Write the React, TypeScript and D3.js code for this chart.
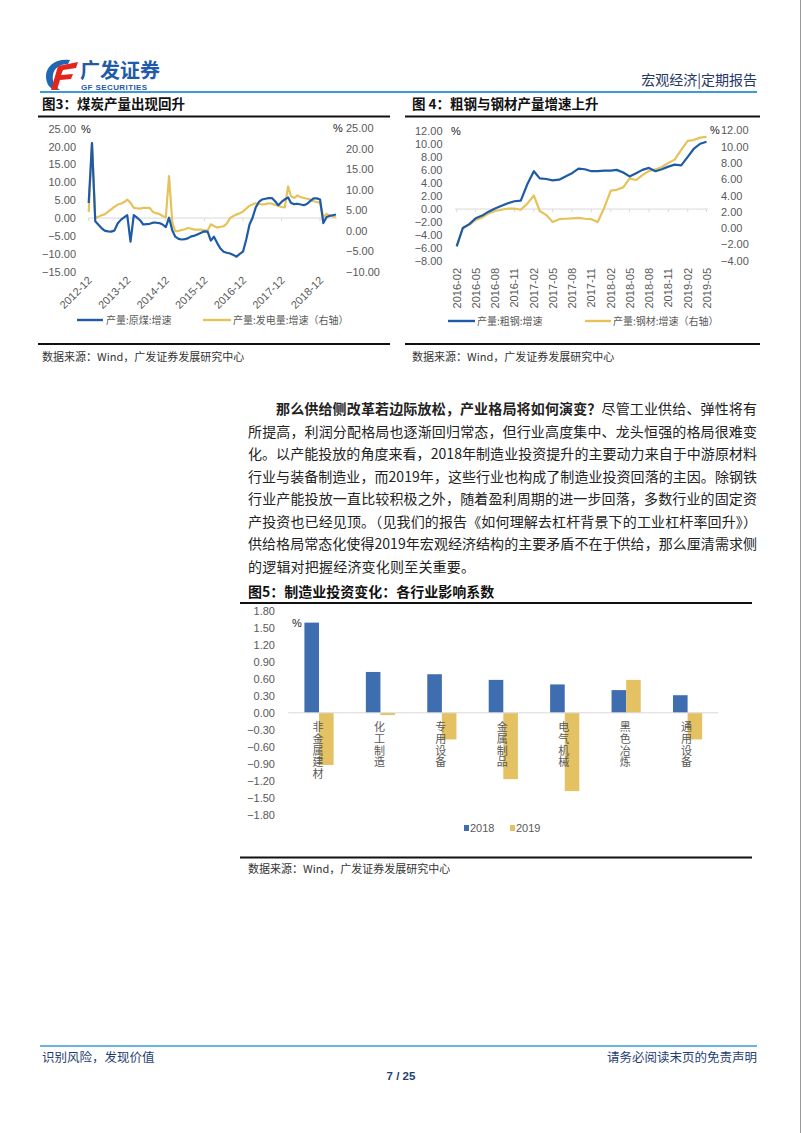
import React from 'react';
import * as d3 from 'd3';

// ---------- Data ----------
const coalMonths = d3.timeMonth.range(new Date(2012, 11, 1), new Date(2019, 5, 1));
const coalTickLabels = ['2012-12', '2013-12', '2014-12', '2015-12', '2016-12', '2017-12', '2018-12'];
const coalOutput = [
  4.2, 21.0, -0.9, -1.8, -2.8, -3.5, -3.7, -3.8, -3.5, -1.5, -0.5, 0.2,
  0.8, -6.6, 0.8, 0.2, -0.6, -1.8, -1.7, -1.6, -1.3, -1.3, -1.4, -1.8,
  -2.5, 0.1, -3.5, -5.2, -5.8, -6.0, -5.9, -5.6, -5.1, -4.9, -4.5, -4.1,
  -3.7, -3.8, -6.3, -5.2, -7.0, -8.5, -9.4, -9.7, -9.9, -10.3, -10.8, -10.0,
  -9.4, -6.0, -1.8, 0.0, 3.0, 4.5, 5.2, 5.4, 5.6, 5.6, 4.7, 3.6,
  4.5, 5.2, 5.8, 4.2, 3.9, 4.0, 3.8, 3.6, 4.0, 4.8, 5.5, 5.5,
  5.2, -1.4, 0.3, 0.6, 0.8, 1.0,
];
const powerOutput = [
  4.6, 21.4, 3.1, 3.4, 3.8, 4.0, 4.6, 5.2, 5.8, 6.4, 6.6, 7.0,
  7.6, 6.8, 5.6, 5.5, 5.4, 5.6, 5.6, 5.6, 4.6, 4.3, 4.1, 3.6,
  3.3, 13.3, 2.0, -0.1, 0.0, 0.2, 0.4, 0.7, 0.5, 0.3, 0.3, 0.3,
  0.1, 0.05, 1.6, 1.2, 0.8, 1.0, 1.1, 1.8, 3.1, 3.6, 4.0, 4.3,
  4.7, 5.4, 6.1, 6.4, 6.7, 6.6, 6.4, 6.5, 6.7, 6.6, 6.3, 6.1,
  5.8, 5.7, 10.8, 8.4, 8.0, 8.6, 8.2, 8.0, 7.8, 7.6, 7.2, 7.0,
  6.8, 3.3, 4.1, 3.8, 3.5, 3.3,
];
const coalLeftTicks = [25, 20, 15, 10, 5, 0, -5, -10, -15];
const coalRightTicks = [25, 20, 15, 10, 5, 0, -5, -10];

const steelMonths = d3.timeMonth.range(new Date(2016, 1, 1), new Date(2019, 5, 1));
const crudeSteel = [
  -5.7, -2.9, -2.3, -1.4, -1.0, -0.4, 0.1, 0.5, 0.9, 1.2, 1.3, 3.8,
  5.8, 4.7, 4.6, 4.4, 4.5, 5.0, 5.5, 6.2, 6.1, 5.8, 5.8, 5.9,
  5.9, 6.0, 5.6, 5.0, 5.5, 6.0, 6.3, 5.8, 6.1, 6.5, 6.8, 6.7,
  8.0, 9.2, 10.0, 10.3,
];
const steelProducts = [
  -2.2, 0.0, 0.4, 1.0, 1.3, 1.8, 2.1, 2.25, 2.4, 2.4, 2.25, 3.0,
  4.0, 2.1, 1.6, 0.75, 1.1, 1.15, 1.2, 1.25, 1.15, 1.1, 0.75, 2.5,
  4.6, 4.7, 5.0, 6.1, 5.9, 6.5, 7.0, 7.2, 7.5, 8.0, 8.4, 9.6,
  10.7, 10.8, 11.1, 11.2,
];
const steelLeftTicks = [12, 10, 8, 6, 4, 2, 0, -2, -4, -6, -8];
const steelRightTicks = [12, 10, 8, 6, 4, 2, 0, -2, -4];

const industries = ['非金属建材', '化工制造', '专用设备', '金属制品', '电气机械', '黑色冶炼', '通用设备'];
const barSeries = ['2018', '2019'];
const coef2018 = [1.59, 0.72, 0.68, 0.58, 0.50, 0.40, 0.31];
const coef2019 = [-0.92, -0.04, -0.47, -1.17, -1.38, 0.58, -0.47];
const barTicks = [1.8, 1.5, 1.2, 0.9, 0.6, 0.3, 0, -0.3, -0.6, -0.9, -1.2, -1.5, -1.8];

const paragraph = [
  '所提高，利润分配格局也逐渐回归常态，但行业高度集中、龙头恒强的格局很难变',
  '化。以产能投放的角度来看，2018年制造业投资提升的主要动力来自于中游原材料',
  '行业与装备制造业，而2019年，这些行业也构成了制造业投资回落的主因。除钢铁',
  '行业产能投放一直比较积极之外，随着盈利周期的进一步回落，多数行业的固定资',
  '产投资也已经见顶。（见我们的报告《如何理解去杠杆背景下的工业杠杆率回升》）',
  '供给格局常态化使得2019年宏观经济结构的主要矛盾不在于供给，那么厘清需求侧',
  '的逻辑对把握经济变化则至关重要。',
];

// ---------- Styles ----------
const BLUE = '#1d5ba6';
const GOLD = '#e6c35a';
const BAR_BLUE = '#3f6eb0';
const BAR_GOLD = '#e4c264';
const AX = '#595959';
const CN = '"Noto Sans CJK SC", sans-serif';
const LAT = '"Liberation Sans", Arial, sans-serif';

const fmt2 = d3.format('.2f');

function CoalChart() {
  const x = d3.scaleTime().domain([coalMonths[0], coalMonths[coalMonths.length - 1]]).range([88.7, 336]);
  const yL = d3.scaleLinear().domain([-15, 25]).range([271.7, 128.7]);
  const yR = d3.scaleLinear().domain([-10, 25]).range([272, 128]);
  const lineL = d3.line<number>().x((_, i) => x(coalMonths[i])).y((d) => yL(d));
  const lineR = d3.line<number>().x((_, i) => x(coalMonths[i])).y((d) => yR(d));
  const tickDates = coalMonths.filter((d) => d.getMonth() === 11);
  return (
    <g>
      <line x1={88} x2={337} y1={yL(0)} y2={yL(0)} stroke="#d9d9d9" strokeWidth={1} />
      {tickDates.map((d, i) => (
        <line key={i} x1={x(d)} x2={x(d)} y1={yL(0)} y2={yL(0) + 3} stroke="#d9d9d9" />
      ))}
      {coalLeftTicks.map((t) => (
        <text key={t} x={76} y={yL(t) + 4} textAnchor="end" fontSize={11} fill={AX} fontFamily={LAT}>{fmt2(t)}</text>
      ))}
      {coalRightTicks.map((t) => (
        <text key={t} x={346} y={yR(t) + 4} textAnchor="start" fontSize={11} fill={AX} fontFamily={LAT}>{fmt2(t)}</text>
      ))}
      <text x={81} y={133} fontSize={11} fill="#222" fontFamily={LAT}>%</text>
      <text x={333} y={132} fontSize={11} fill="#222" fontFamily={LAT}>%</text>
      {tickDates.map((d, i) => (
        <text key={i} transform={`translate(${x(d) + 4},${281}) rotate(-45)`} textAnchor="end" fontSize={11} fill={AX} fontFamily={LAT}>{coalTickLabels[i]}</text>
      ))}
      <path d={lineR(powerOutput) || ''} fill="none" stroke={GOLD} strokeWidth={2.2} strokeLinejoin="round" />
      <path d={lineL(coalOutput) || ''} fill="none" stroke={BLUE} strokeWidth={2.2} strokeLinejoin="round" />
      <line x1={77} x2={103} y1={320} y2={320} stroke={BLUE} strokeWidth={2.4} />
      <text x={106} y={323.5} fontSize={10} fill={AX} fontFamily={CN}>产量:原煤:增速</text>
      <line x1={203} x2={231} y1={320} y2={320} stroke={GOLD} strokeWidth={2.4} />
      <text x={233} y={323.5} fontSize={10} fill={AX} fontFamily={CN}>产量:发电量:增速（右轴）</text>
    </g>
  );
}

function SteelChart() {
  const x = d3.scaleTime().domain([steelMonths[0], steelMonths[steelMonths.length - 1]]).range([456.7, 706.5]);
  const yL = d3.scaleLinear().domain([-8, 12]).range([261.3, 130.7]);
  const yR = d3.scaleLinear().domain([-4, 12]).range([260.7, 130.3]);
  const lineL = d3.line<number>().x((_, i) => x(steelMonths[i])).y((d) => yL(d));
  const lineR = d3.line<number>().x((_, i) => x(steelMonths[i])).y((d) => yR(d));
  const tickDates = steelMonths.filter((_, i) => i % 3 === 0);
  const tf = d3.timeFormat('%Y-%m');
  return (
    <g>
      <line x1={455} x2={708} y1={yL(0)} y2={yL(0)} stroke="#d9d9d9" strokeWidth={1} />
      {tickDates.map((d, i) => (
        <line key={i} x1={x(d)} x2={x(d)} y1={yL(0)} y2={yL(0) + 3} stroke="#d9d9d9" />
      ))}
      {steelLeftTicks.map((t) => (
        <text key={t} x={442.5} y={yL(t) + 4} textAnchor="end" fontSize={11} fill={AX} fontFamily={LAT}>{fmt2(t)}</text>
      ))}
      {steelRightTicks.map((t) => (
        <text key={t} x={721} y={yR(t) + 4} textAnchor="start" fontSize={11} fill={AX} fontFamily={LAT}>{fmt2(t)}</text>
      ))}
      <text x={451} y={135} fontSize={11} fill="#222" fontFamily={LAT}>%</text>
      <text x={710} y={134} fontSize={11} fill="#222" fontFamily={LAT}>%</text>
      {tickDates.map((d, i) => (
        <text key={i} transform={`translate(${x(d) + 4},${268}) rotate(-90)`} textAnchor="end" fontSize={11} fill={AX} fontFamily={LAT}>{tf(d)}</text>
      ))}
      <path d={lineR(steelProducts) || ''} fill="none" stroke={GOLD} strokeWidth={2.2} strokeLinejoin="round" />
      <path d={lineL(crudeSteel) || ''} fill="none" stroke={BLUE} strokeWidth={2.2} strokeLinejoin="round" />
      <line x1={448} x2={475} y1={321} y2={321} stroke={BLUE} strokeWidth={2.4} />
      <text x={477} y={324.5} fontSize={10} fill={AX} fontFamily={CN}>产量:粗钢:增速</text>
      <line x1={585} x2={611} y1={321} y2={321} stroke={GOLD} strokeWidth={2.4} />
      <text x={613} y={324.5} fontSize={10} fill={AX} fontFamily={CN}>产量:钢材:增速（右轴）</text>
    </g>
  );
}

function BarChart() {
  const x0 = d3.scaleBand<string>().domain(industries).range([288.3, 718.3]);
  const bw = x0.bandwidth();
  const x1 = d3.scaleBand<string>().domain(barSeries).range([bw / 2 - 14.6, bw / 2 + 14.6]);
  const y = d3.scaleLinear().domain([-1.8, 1.8]).range([814.9, 610.7]);
  const vals = [coef2018, coef2019];
  const cols = [BAR_BLUE, BAR_GOLD];
  return (
    <g>
      {barTicks.map((t) => (
        <text key={t} x={275} y={y(t) + 4} textAnchor="end" fontSize={11} fill={AX} fontFamily={LAT}>{fmt2(t)}</text>
      ))}
      <text x={292} y={627} fontSize={11} fill="#222" fontFamily={LAT}>%</text>
      {industries.map((c, i) => (
        <g key={c} transform={`translate(${x0(c)},0)`}>
          {barSeries.map((s, k) => {
            const v = vals[k][i];
            return (
              <rect key={s} x={x1(s)} width={x1.bandwidth()} y={y(Math.max(0, v))} height={Math.abs(y(v) - y(0))} fill={cols[k]} />
            );
          })}
        </g>
      ))}
      <line x1={288.3} x2={718.3} y1={y(0)} y2={y(0)} stroke="#d9d9d9" strokeWidth={1} />
      {industries.map((c) => {
        const cx = (x0(c) || 0) + bw / 2 - 1;
        return (
          <text key={c} x={cx} y={721.5} fontSize={11} fill={AX} fontFamily={CN}
            style={{ writingMode: 'vertical-rl', letterSpacing: '0.7px' }}>{c}</text>
        );
      })}
      <rect x={464} y={825} width={5} height={6} fill={BAR_BLUE} />
      <text x={470} y={832} fontSize={11} fill={AX} fontFamily={LAT}>{barSeries[0]}</text>
      <rect x={510} y={825} width={5} height={6} fill={BAR_GOLD} />
      <text x={516} y={832} fontSize={11} fill={AX} fontFamily={LAT}>{barSeries[1]}</text>
    </g>
  );
}

function Logo() {
  return (
    <g>
      <path d="M70,60 C56,58 46,66 46,76 C46,84 50,89 56,90 L60,90 C54,86 52,80 53,75 C54,68 60,64 68,64 Z" fill="#1f67b2" />
      <path d="M58,66 L78,62 L76,68 L63,70 L61,75 L73,74 L71,79 L60,80 L57,90 L51,90 Z" fill="#e2261c" />
      <text x={80} y={78} fontSize={20} fontWeight="bold" fill="#1f5ba8" fontFamily={CN}>广发证券</text>
      <text x={81} y={90} fontSize={8} fontWeight="bold" fill="#1f5ba8" fontFamily={LAT} letterSpacing={0.4}>GF SECURITIES</text>
    </g>
  );
}

export default function App() {
  return (
    <svg width={802} height={1133} style={{ display: 'block', position: 'absolute', left: 0, top: 0, background: '#fff' }}>
      <rect x={0} y={0} width={802} height={1133} fill="#fff" />
      <line x1={800.5} x2={800.5} y1={0} y2={1133} stroke="#9a9a9a" strokeWidth={1} />
      <Logo />
      <text x={757} y={85} textAnchor="end" fontSize={14} fill="#1f3864" fontFamily={CN}>宏观经济|定期报告</text>
      <line x1={40} x2={757} y1={92} y2={92} stroke="#3a9bd5" strokeWidth={2} />

      {/* figure titles */}
      <text x={42} y={109} fontSize={13.5} fontWeight="bold" fill="#111" fontFamily={CN}>图3：煤炭产量出现回升</text>
      <line x1={38} x2={390} y1={116.5} y2={116.5} stroke="#111" strokeWidth={1.8} />
      <text x={412} y={109} fontSize={13.5} fontWeight="bold" fill="#111" fontFamily={CN}>图 4：粗钢与钢材产量增速上升</text>
      <line x1={405} x2={760} y1={116.5} y2={116.5} stroke="#111" strokeWidth={1.8} />

      <CoalChart />
      <SteelChart />

      <line x1={38} x2={390} y1={344} y2={344} stroke="#111" strokeWidth={1.8} />
      <line x1={405} x2={760} y1={344} y2={344} stroke="#111" strokeWidth={1.8} />
      <text x={42} y={361} fontSize={11} fill="#333" fontFamily={CN}>数据来源：Wind，广发证券发展研究中心</text>
      <text x={412} y={361} fontSize={11} fill="#333" fontFamily={CN}>数据来源：Wind，广发证券发展研究中心</text>

      {/* paragraph */}
      <text x={276} y={414} fontSize={14} fill="#222" fontFamily={CN} textLength={481} lengthAdjust="spacing">
        <tspan fontWeight="bold">那么供给侧改革若边际放松，产业格局将如何演变？</tspan>
        <tspan>尽管工业供给、弹性将有</tspan>
      </text>
      {paragraph.map((ln, i) => (
        <text key={i} x={248} y={414 + (i + 1) * 22.5} fontSize={14} fill="#222" fontFamily={CN}
          {...(i < paragraph.length - 1 ? { textLength: 509, lengthAdjust: 'spacing' } : { letterSpacing: 0.2 })}>{ln}</text>
      ))}

      {/* figure 5 */}
      <text x={248} y={597} fontSize={14} fontWeight="bold" fill="#111" fontFamily={CN}>图5：制造业投资变化：各行业影响系数</text>
      <line x1={240} x2={752} y1={603} y2={603} stroke="#111" strokeWidth={1.8} />
      <BarChart />
      <line x1={240} x2={752} y1={857.5} y2={857.5} stroke="#111" strokeWidth={1.8} />
      <text x={248} y={873} fontSize={11} fill="#333" fontFamily={CN}>数据来源：Wind，广发证券发展研究中心</text>

      {/* footer */}
      <line x1={40} x2={757} y1={1046} y2={1046} stroke="#3a9bd5" strokeWidth={1.5} />
      <text x={42} y={1062} fontSize={12.5} fill="#1f3f73" fontFamily={CN}>识别风险，发现价值</text>
      <text x={757} y={1062} textAnchor="end" fontSize={12.5} fill="#1f3f73" fontFamily={CN}>请务必阅读末页的免责声明</text>
      <text x={401} y={1080} textAnchor="middle" fontSize={11.5} fontWeight="bold" fill="#1f3f73" fontFamily={LAT}>7 / 25</text>
    </svg>
  );
}
